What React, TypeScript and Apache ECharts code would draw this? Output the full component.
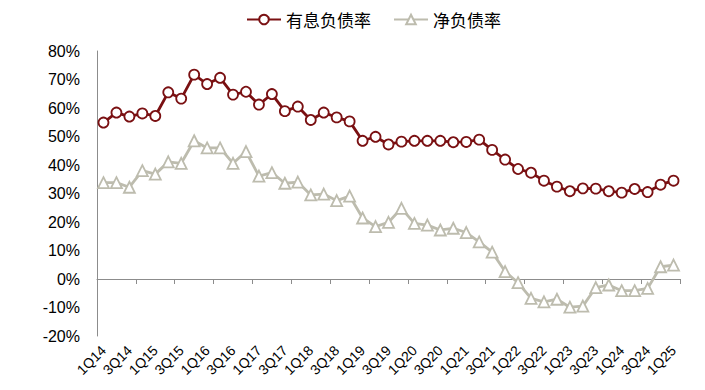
import React, { useEffect, useRef } from "react";
import * as echarts from "echarts";

const quarters = [
  "1Q14", "2Q14", "3Q14", "4Q14",
  "1Q15", "2Q15", "3Q15", "4Q15",
  "1Q16", "2Q16", "3Q16", "4Q16",
  "1Q17", "2Q17", "3Q17", "4Q17",
  "1Q18", "2Q18", "3Q18", "4Q18",
  "1Q19", "2Q19", "3Q19", "4Q19",
  "1Q20", "2Q20", "3Q20", "4Q20",
  "1Q21", "2Q21", "3Q21", "4Q21",
  "1Q22", "2Q22", "3Q22", "4Q22",
  "1Q23", "2Q23", "3Q23", "4Q23",
  "1Q24", "2Q24", "3Q24", "4Q24",
  "1Q25",
];

const interestDebtRatio = [
  54.9, 58.4, 57.0, 58.1,
  57.2, 65.5, 63.3, 71.7,
  68.4, 70.6, 64.7, 65.7,
  61.2, 64.9, 58.9, 60.5,
  55.8, 58.4, 56.7, 55.3,
  48.5, 49.9, 47.2, 48.2,
  48.5, 48.5, 48.5, 48.0,
  48.1, 48.9, 45.3, 41.9,
  38.6, 37.3, 34.5, 32.4,
  30.8, 31.8, 31.7, 30.8,
  30.3, 31.6, 30.5, 33.1,
  34.5,
];

const netDebtRatio = [
  33.8, 33.8, 32.2, 38.0,
  36.8, 41.1, 40.6, 48.5,
  46.0, 46.0, 40.6, 44.7,
  36.1, 37.3, 33.6, 34.0,
  29.5, 29.8, 27.5, 29.1,
  21.4, 18.4, 19.9, 24.8,
  19.5, 18.9, 17.2, 17.8,
  16.3, 13.0, 9.4, 2.6,
  -1.3, -6.8, -8.0, -7.1,
  -9.9, -9.5, -3.0, -2.1,
  -4.1, -4.1, -3.3, 4.3,
  4.9,
];

const seriesNames = ["有息负债率", "净负债率"];

const RED = "#7A1012";
const GRAY = "#BDBCAE";
const AXIS = "#8C8C8C";
const FONT = "Arial, 'Liberation Sans', 'Noto Sans CJK SC', sans-serif";

export default function App() {
  const ref = useRef<HTMLDivElement>(null);

  useEffect(() => {
    if (!ref.current) return;
    const chart = echarts.init(ref.current, undefined, { renderer: "svg" });
    chart.setOption({
      animation: false,
      backgroundColor: "#ffffff",
      textStyle: { fontFamily: FONT },
      legend: {
        top: 6,
        left: 241,
        itemWidth: 34,
        itemHeight: 12,
        itemGap: 22,
        textStyle: { fontSize: 17, color: "#000", fontFamily: "'Noto Sans CJK SC', sans-serif" },
        data: seriesNames,
      },
      grid: { left: 97, right: 25, top: 51, bottom: 54, containLabel: false },
      xAxis: [
        {
          type: "category",
          data: quarters,
          position: "bottom",
          boundaryGap: true,
          axisLine: { show: false, onZero: false },
          axisTick: { show: false },
          axisLabel: {
            interval: 1,
            rotate: 45,
            fontSize: 14,
            color: "#000",
            margin: 12,
            fontFamily: FONT,
          },
          splitLine: { show: false },
        },
        {
          type: "category",
          data: quarters,
          position: "bottom",
          boundaryGap: true,
          axisLine: { show: true, onZero: true, lineStyle: { color: AXIS, width: 1 } },
          axisTick: { show: true, inside: false, length: 5, lineStyle: { color: AXIS } },
          axisLabel: { show: false },
          splitLine: { show: false },
        },
      ],
      yAxis: {
        type: "value",
        min: -20,
        max: 80,
        interval: 10,
        axisLine: { show: true, lineStyle: { color: AXIS, width: 1 } },
        axisTick: { show: false },
        splitLine: { show: false },
        axisLabel: {
          formatter: "{value}%",
          fontSize: 16,
          color: "#000",
          margin: 17,
          fontFamily: FONT,
        },
      },
      series: [
        {
          name: seriesNames[0],
          type: "line",
          xAxisIndex: 0,
          data: interestDebtRatio,
          symbol: "circle",
          symbolSize: 10,
          showAllSymbol: true,
          lineStyle: { color: RED, width: 2.8 },
          itemStyle: { color: "#ffffff", borderColor: RED, borderWidth: 1.8 },
          color: RED,
          z: 3,
        },
        {
          name: seriesNames[1],
          type: "line",
          xAxisIndex: 0,
          data: netDebtRatio,
          symbol: "triangle",
          symbolSize: 11,
          showAllSymbol: true,
          lineStyle: { color: GRAY, width: 2.8 },
          itemStyle: { color: "#ffffff", borderColor: GRAY, borderWidth: 1.8 },
          color: GRAY,
          z: 2,
        },
      ],
    });
    return () => chart.dispose();
  }, []);

  return <div ref={ref} style={{ width: 705, height: 390, position: "absolute", left: 0, top: 0 }} />;
}
